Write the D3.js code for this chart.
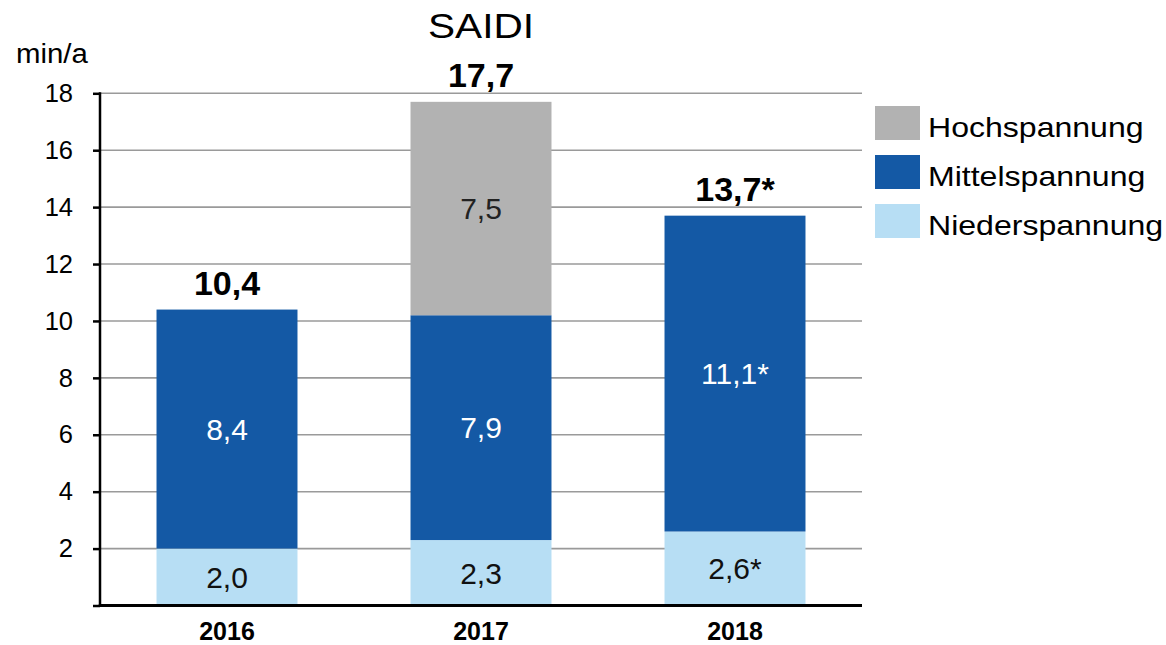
<!DOCTYPE html>
<html>
<head>
<meta charset="utf-8">
<script src="https://cdn.jsdelivr.net/npm/d3@7"></script>
<style>
  html, body { margin: 0; padding: 0; background: #fff; }
  svg { display: block; font-family: "Liberation Sans", Arial, sans-serif; }
</style>
</head>
<body>
<svg id="chart" width="1166" height="645"></svg>
<script>
const years = ["2016", "2017", "2018"];
const seriesNames = ["Niederspannung", "Mittelspannung", "Hochspannung"];
const nieder = [2.0, 2.3, 2.6];
const mittel = [8.4, 7.9, 11.1];
const hoch = [0, 7.5, 0];
const niederLabels = ["2,0", "2,3", "2,6*"];
const mittelLabels = ["8,4", "7,9", "11,1*"];
const hochLabels = ["", "7,5", ""];
const totalLabels = ["10,4", "17,7", "13,7*"];
const yTicks = [2, 4, 6, 8, 10, 12, 14, 16, 18];
const legendOrder = ["Hochspannung", "Mittelspannung", "Niederspannung"];

const colors = { Niederspannung: "#b7def4", Mittelspannung: "#1459a5", Hochspannung: "#b2b2b2" };
const labelColors = { Niederspannung: "#111", Mittelspannung: "#fff", Hochspannung: "#222" };

const svg = d3.select("#chart");
const x0 = 100, x1 = 862, yTop = 93.3, yBottom = 605.5;

const x = d3.scaleBand().domain(years).range([x0, x1]).paddingInner(0.445).paddingOuter(0.2225);
const y = d3.scaleLinear().domain([0, 18]).range([yBottom, yTop]);

// gridlines
svg.append("g").selectAll("line").data(yTicks).join("line")
  .attr("x1", x0).attr("x2", x1)
  .attr("y1", d => y(d)).attr("y2", d => y(d))
  .attr("stroke", "#9a9a9a").attr("stroke-width", 1.6);

// stacked data
const table = years.map((yr, i) => ({
  year: yr,
  Niederspannung: nieder[i], Mittelspannung: mittel[i], Hochspannung: hoch[i],
  labels: { Niederspannung: niederLabels[i], Mittelspannung: mittelLabels[i], Hochspannung: hochLabels[i] }
}));
const stacked = d3.stack().keys(seriesNames)(table);

const g = svg.append("g");
stacked.forEach(layer => {
  const key = layer.key;
  g.append("g").selectAll("rect").data(layer).join("rect")
    .attr("x", d => x(d.data.year))
    .attr("width", x.bandwidth())
    .attr("y", d => y(d[1]))
    .attr("height", d => y(d[0]) - y(d[1]))
    .attr("fill", colors[key]);
  g.append("g").selectAll("text").data(layer.filter(d => d[1] - d[0] > 0)).join("text")
    .attr("x", d => x(d.data.year) + x.bandwidth() / 2)
    .attr("y", d => (y(d[0]) + y(d[1])) / 2)
    .attr("dy", "0.36em")
    .attr("text-anchor", "middle")
    .attr("font-size", 30)
    .attr("fill", labelColors[key])
    .text(d => d.data.labels[key]);
});

// totals
const totals = years.map((yr, i) => nieder[i] + mittel[i] + hoch[i]);
svg.append("g").selectAll("text").data(years).join("text")
  .attr("x", d => x(d) + x.bandwidth() / 2)
  .attr("y", (d, i) => y(totals[i]) - 15)
  .attr("text-anchor", "middle")
  .attr("font-size", 34).attr("font-weight", "bold").attr("fill", "#000")
  .text((d, i) => totalLabels[i]);

// y axis
const yAxis = svg.append("g").attr("transform", `translate(${x0},0)`)
  .call(d3.axisLeft(y).tickValues([0].concat(yTicks)).tickSize(7).tickPadding(20).tickFormat(d => d === 0 ? "" : d));
yAxis.select(".domain").remove();
yAxis.selectAll(".tick line").attr("stroke", "#000").attr("stroke-width", 2.5);
yAxis.selectAll(".tick text").attr("font-size", 25.5).attr("fill", "#000").attr("font-family", "Liberation Sans, Arial, sans-serif");
svg.append("line").attr("x1", x0).attr("x2", x0).attr("y1", yTop - 1).attr("y2", yBottom + 1.5)
  .attr("stroke", "#000").attr("stroke-width", 2.5);

// x axis
svg.append("line").attr("x1", x0 - 1.2).attr("x2", x1).attr("y1", yBottom).attr("y2", yBottom)
  .attr("stroke", "#000").attr("stroke-width", 3);
const xAxis = svg.append("g").attr("transform", `translate(0,${yBottom})`)
  .call(d3.axisBottom(x).tickSize(0).tickPadding(17));
xAxis.select(".domain").remove();
xAxis.selectAll(".tick text").attr("font-size", 25).attr("font-weight", "bold").attr("fill", "#000")
  .attr("font-family", "Liberation Sans, Arial, sans-serif");

// stretched text helper
function stretched(tx, ty, txt, size, sx, anchor) {
  svg.append("g").attr("transform", `translate(${tx},${ty}) scale(${sx},1)`)
    .append("text").attr("text-anchor", anchor).attr("font-size", size).attr("fill", "#000").text(txt);
}

stretched(481, 38, "SAIDI", 35, 1.16, "middle");
stretched(16, 63, "min/a", 28, 1.05, "start");

// legend
const lg = svg.append("g");
legendOrder.forEach((name, i) => {
  const ly = 106 + i * 49;
  lg.append("rect").attr("x", 875).attr("y", ly).attr("width", 45).attr("height", 34).attr("fill", colors[name]);
  stretched(928, ly + 31, name, 28, 1.145, "start");
});
</script>
</body>
</html>
